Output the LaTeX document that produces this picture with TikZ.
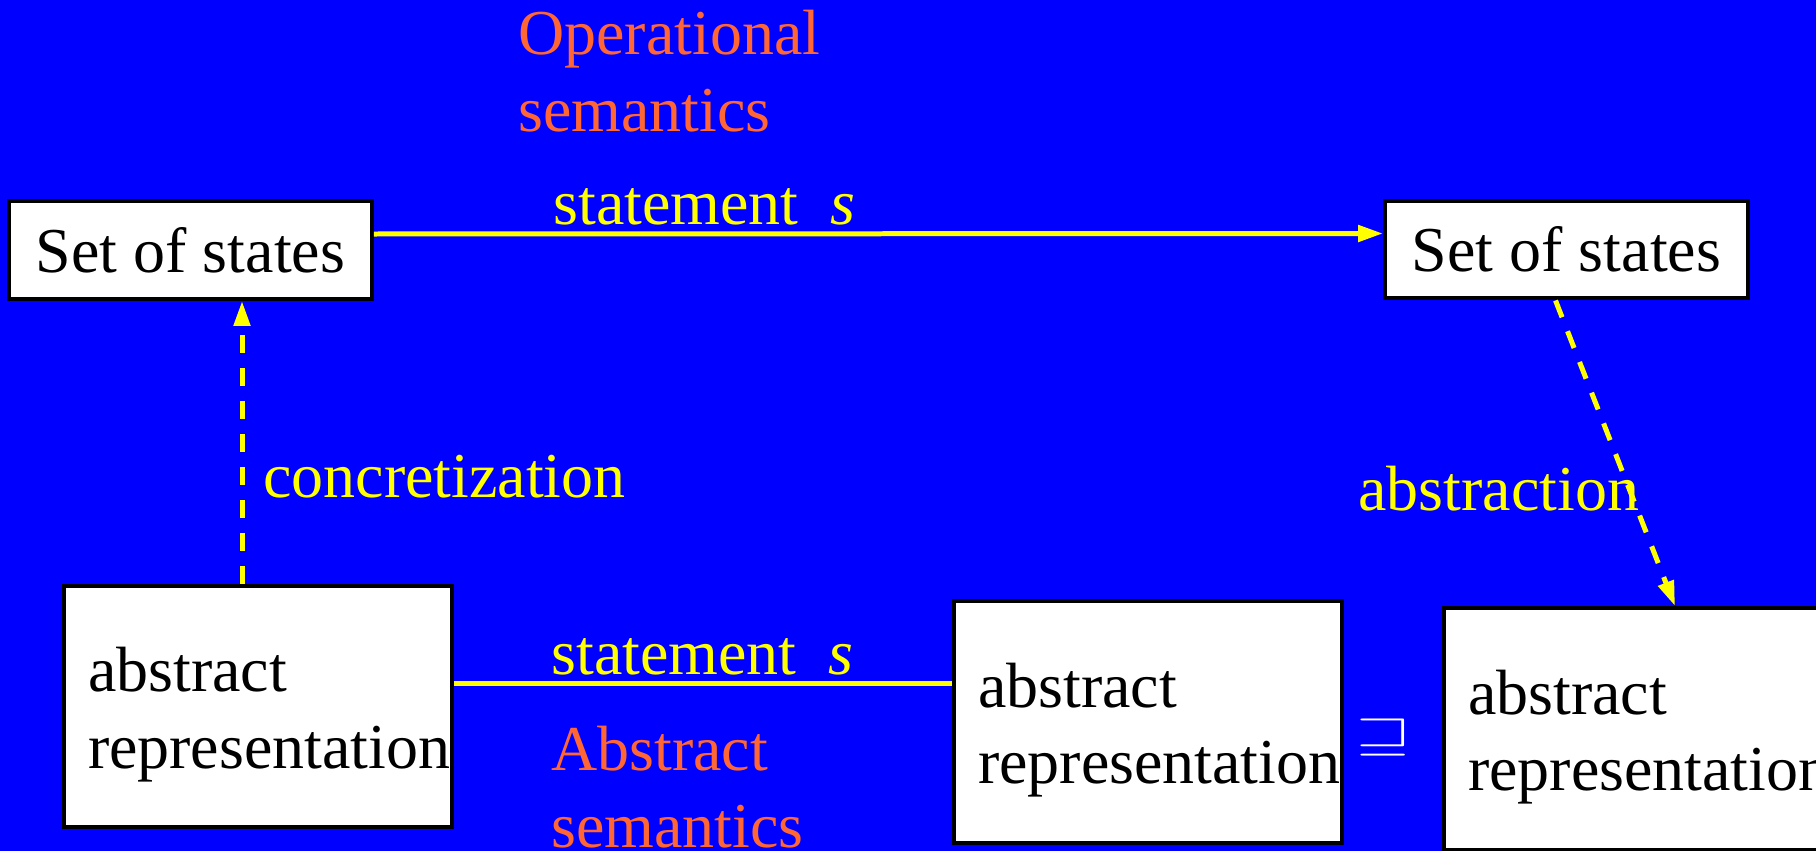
\documentclass[tikz,border=0pt]{standalone}
\usepackage{fix-cm}
\usepackage{fontspec}
\setmainfont{Liberation Serif}
\usetikzlibrary{arrows.meta}

\definecolor{bgblue}{RGB}{0,0,255}
\definecolor{semorange}{RGB}{255,102,51}
\definecolor{lineyellow}{RGB}{255,255,0}

\tikzset{
  statebox/.style={draw=black, fill=white, line width=0.08cm, inner sep=0pt,
    minimum width=7.26cm, minimum height=1.96cm},
  absbox/.style={draw=black, fill=white, line width=0.08cm, inner sep=0pt,
    text width=6.8cm, align=left, text depth=1.48cm,
    minimum width=7.76cm, minimum height=4.84cm},
  yline/.style={draw=lineyellow, line width=0.1cm},
  ydash/.style={yline, dash pattern=on 0.36cm off 0.3cm},
  ytip/.style={-{Triangle[length=0.5cm, width=0.32cm]}},
  arrowlabel/.style={text=lineyellow, inner sep=0pt, anchor=base west},
  semlabel/.style={text=semorange, inner sep=0pt, align=left, anchor=north west},
}

\begin{document}
\begin{tikzpicture}[x=0.02cm, y=-0.02cm, font=\fontsize{36.4}{43.7}\selectfont]
\useasboundingbox (0,0) rectangle (1816,851);
\fill[bgblue] (0,0) rectangle (1816,851);

%Nodes
\node[statebox] (states1) at (190.5,250) {Set of states};
\node[statebox] (states2) at (1566.5,249.5) {Set of states};

\node[absbox] (abs1) at (258,706.5) {abstract\\representation};
\node[absbox] (abs2) at (1148,722) {abstract\\representation};
\node[absbox] (abs3) at (1638,729) {abstract\\representation};

\node[semlabel] (opsem) at (518,10) {Operational\\semantics};
\node[arrowlabel] (stmt1) at (553,225) {statement~~\textit{s}};
\node[arrowlabel] (concr) at (263,497) {concretization};
\node[arrowlabel] (abstr) at (1358,510) {abstraction};
\node[arrowlabel] (stmt2) at (551,674) {statement~~\textit{s}};
\node[semlabel] (abssem) at (551,726) {Abstract\\semantics};
\node[text=white, inner sep=0pt] (order) at (1384,738) {\scalebox{1.1}[0.75]{$\sqsupseteq$}};

%Lines
\draw[yline, ytip] ([yshift=0.32cm]states1.east) -- ([yshift=0.32cm]states2.west);

\draw[yline] ([yshift=0.47cm]abs1.east) -- ([yshift=0.47cm]abs1.east -| abs2.west);

\draw[ydash, ytip] ([xshift=-0.32cm]abs1.north) -- ([xshift=-0.32cm]abs1.north |- states1.south);

\draw[ydash, ytip] ([xshift=-0.22cm]states2.south) -- ([xshift=0.74cm]abs3.north);
\end{tikzpicture}
\end{document}
